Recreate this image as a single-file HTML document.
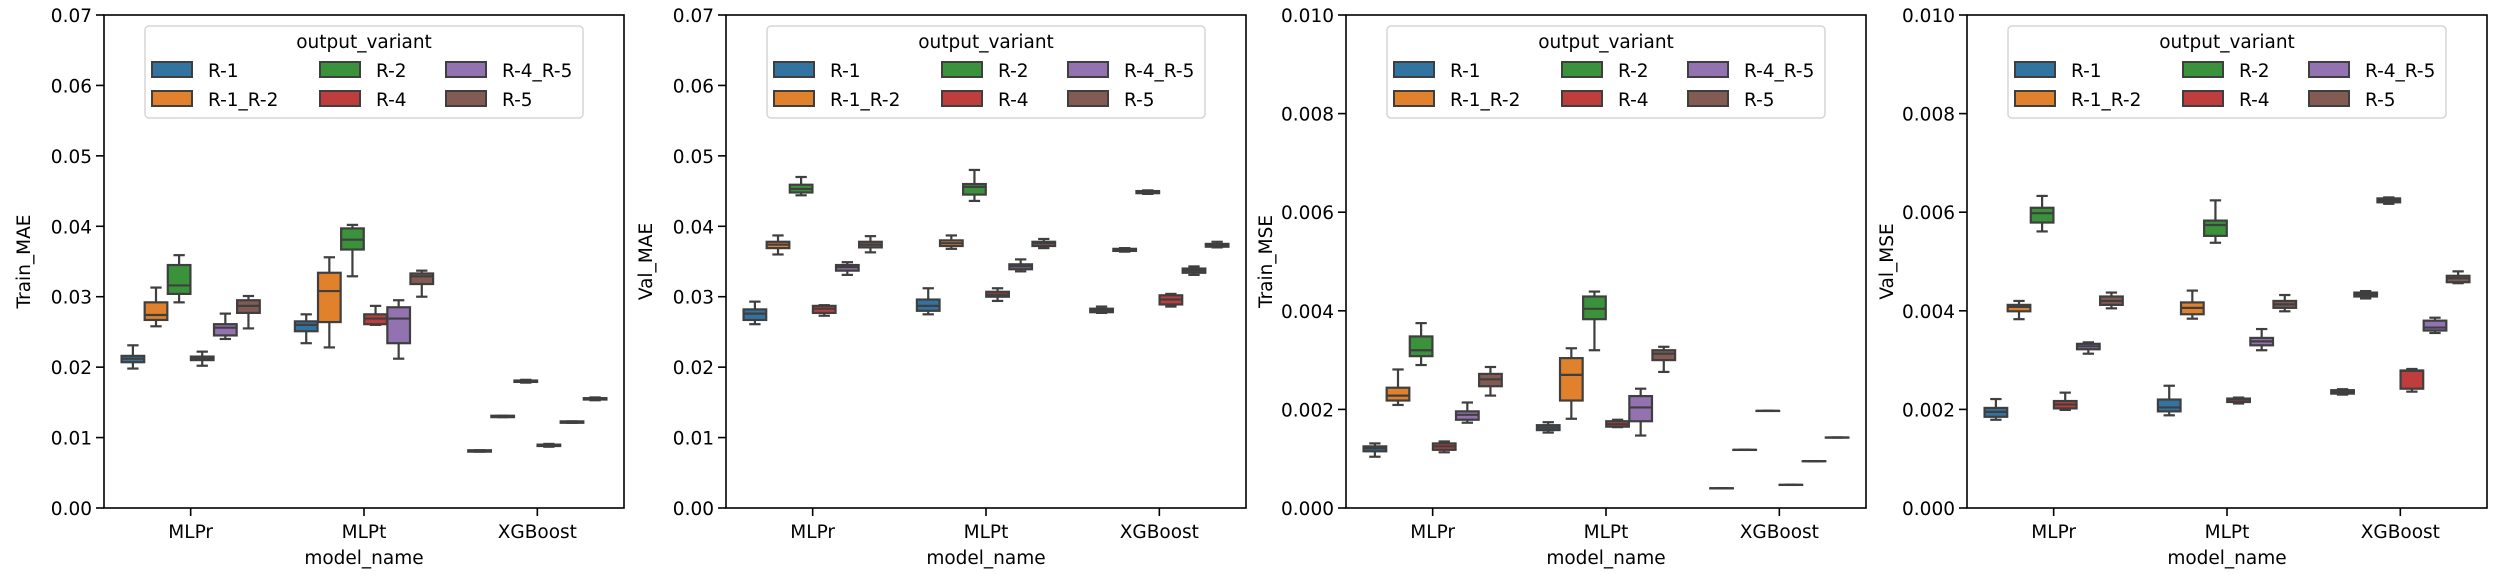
<!DOCTYPE html>
<html><head><meta charset="utf-8"><style>
html,body{margin:0;padding:0;background:#fff;}
svg{display:block;font-family:"DejaVu Sans","Liberation Sans",sans-serif;}
</style></head><body>
<svg id="fig" width="2518" height="575" viewBox="0 0 2518 575" xmlns="http://www.w3.org/2000/svg"></svg>
<script>
const categories = ["MLPr","MLPt","XGBoost"];
const variants = ["R-1","R-1_R-2","R-2","R-4","R-4_R-5","R-5"];
const colors = ["#3274a1","#e1812c","#3a923a","#c03d3e","#9372b2","#845b53"];

// each: [whisker low, q1, median, q3, whisker high] per variant
const trainMaeMLPr = [[0.0198,0.0207,0.0212,0.0216,0.0231],[0.0258,0.0267,0.0274,0.0292,0.0313],[0.0292,0.0304,0.0316,0.0345,0.0359],[0.0202,0.0210,0.0213,0.0215,0.0222],[0.0240,0.0245,0.0256,0.0261,0.0276],[0.0255,0.0277,0.0287,0.0295,0.0301]];
const trainMaeMLPt = [[0.0234,0.0251,0.0260,0.0265,0.0275],[0.0228,0.0264,0.0308,0.0334,0.0356],[0.0329,0.0367,0.0381,0.0397,0.0402],[0.0260,0.0261,0.0269,0.0275,0.0287],[0.0212,0.0234,0.0269,0.0285,0.0295],[0.0300,0.0318,0.0329,0.0333,0.0337]];
const trainMaeXGB = [[0.0080,0.0080,0.0081,0.0082,0.0082],[0.0129,0.0129,0.0130,0.0131,0.0131],[0.0178,0.0179,0.0180,0.0181,0.0182],[0.0087,0.0088,0.0089,0.0090,0.0091],[0.0121,0.0121,0.0122,0.0123,0.0123],[0.0153,0.0154,0.0155,0.0156,0.0157]];

const valMaeMLPr = [[0.0261,0.0267,0.0276,0.0282,0.0293],[0.0360,0.0369,0.0374,0.0378,0.0387],[0.0444,0.0448,0.0453,0.0459,0.0470],[0.0273,0.0277,0.0283,0.0287,0.0288],[0.0331,0.0337,0.0342,0.0345,0.0349],[0.0363,0.0370,0.0374,0.0378,0.0386]];
const valMaeMLPt = [[0.0275,0.0280,0.0287,0.0296,0.0312],[0.0368,0.0372,0.0376,0.0380,0.0387],[0.0436,0.0445,0.0456,0.0460,0.0480],[0.0294,0.0300,0.0303,0.0307,0.0312],[0.0336,0.0339,0.0343,0.0346,0.0353],[0.0369,0.0372,0.0376,0.0378,0.0382]];
const valMaeXGB = [[0.0277,0.0278,0.0281,0.0283,0.0286],[0.0364,0.0365,0.0366,0.0368,0.0369],[0.0446,0.0447,0.0448,0.0450,0.0451],[0.0286,0.0289,0.0296,0.0302,0.0304],[0.0331,0.0334,0.0337,0.0340,0.0343],[0.0370,0.0371,0.0373,0.0375,0.0378]];

const trainMseMLPr = [[0.00104,0.00115,0.00121,0.00125,0.00131],[0.00209,0.00218,0.00228,0.00244,0.00281],[0.00290,0.00308,0.00320,0.00348,0.00375],[0.00113,0.00118,0.00125,0.00131,0.00135],[0.00173,0.00179,0.00189,0.00196,0.00214],[0.00228,0.00247,0.00261,0.00272,0.00286]];
const trainMseMLPt = [[0.00153,0.00158,0.00163,0.00168,0.00174],[0.00181,0.00218,0.00270,0.00304,0.00324],[0.00320,0.00383,0.00404,0.00429,0.00439],[0.00164,0.00165,0.00170,0.00176,0.00179],[0.00147,0.00176,0.00204,0.00227,0.00242],[0.00276,0.00300,0.00313,0.00320,0.00327]];
const trainMseXGB = [[0.00040,0.00040,0.00040,0.00040,0.00040],[0.00118,0.00118,0.00118,0.00118,0.00118],[0.00197,0.00197,0.00197,0.00197,0.00197],[0.00047,0.00047,0.00047,0.00047,0.00047],[0.00095,0.00095,0.00095,0.00095,0.00095],[0.00143,0.00143,0.00143,0.00143,0.00143]];

const valMseMLPr = [[0.00179,0.00185,0.00195,0.00203,0.00221],[0.00383,0.00399,0.00408,0.00412,0.00420],[0.00561,0.00579,0.00598,0.00609,0.00633],[0.00199,0.00202,0.00210,0.00217,0.00234],[0.00313,0.00322,0.00328,0.00333,0.00336],[0.00405,0.00412,0.00420,0.00429,0.00437]];
const valMseMLPt = [[0.00188,0.00196,0.00204,0.00220,0.00248],[0.00384,0.00393,0.00406,0.00417,0.00441],[0.00538,0.00552,0.00574,0.00583,0.00624],[0.00212,0.00215,0.00220,0.00222,0.00224],[0.00320,0.00330,0.00338,0.00345,0.00363],[0.00399,0.00406,0.00413,0.00420,0.00432]];
const valMseXGB = [[0.00230,0.00232,0.00236,0.00239,0.00241],[0.00425,0.00429,0.00433,0.00437,0.00440],[0.00617,0.00620,0.00624,0.00628,0.00630],[0.00236,0.00242,0.00278,0.00279,0.00282],[0.00355,0.00360,0.00366,0.00380,0.00386],[0.00456,0.00458,0.00466,0.00471,0.00480]];

const maeTicks = ["0.00","0.01","0.02","0.03","0.04","0.05","0.06","0.07"];
const mseTicks = ["0.000","0.002","0.004","0.006","0.008","0.010"];

const panels = [
  {name:"train-mae", label:"Train_MAE", left:104, ymax:0.07, ticks:maeTicks, data:[trainMaeMLPr,trainMaeMLPt,trainMaeXGB]},
  {name:"val-mae", label:"Val_MAE", left:726, ymax:0.07, ticks:maeTicks, data:[valMaeMLPr,valMaeMLPt,valMaeXGB]},
  {name:"train-mse", label:"Train_MSE", left:1346, ymax:0.010, ticks:mseTicks, data:[trainMseMLPr,trainMseMLPt,trainMseXGB]},
  {name:"val-mse", label:"Val_MSE", left:1967, ymax:0.010, ticks:mseTicks, data:[valMseMLPr,valMseMLPt,valMseXGB]}
];

const NS = "http://www.w3.org/2000/svg";
const svg = document.getElementById("fig");
function mk(tag, attrs, parent, text){
  const e = document.createElementNS(NS, tag);
  for (const k in attrs) e.setAttribute(k, attrs[k]);
  if (text !== undefined) e.textContent = text;
  parent.appendChild(e);
  return e;
}
const W = 520, TOP = 15, BOT = 508, LC = "#3f3f3f", FS = 18.5;

panels.forEach(p => {
  const g = mk("g", {}, svg);
  
  
  const L = p.left;
  const xs = v => L + (v + 0.5) / 3 * W;
  const ys = v => BOT - v / p.ymax * (BOT - TOP);

  p.ticks.forEach(t => {
    const y = ys(parseFloat(t));
    const ln = mk("line", {x1:L-8, x2:L, y1:y, y2:y, stroke:"#000", "stroke-width":1.6}, g);
    
    
    const tx = mk("text", {x:L-12, y:y+7, "text-anchor":"end", "font-size":FS, fill:"#000"}, g, t);
    
    
  });
  categories.forEach((c, i) => {
    const x = xs(i);
    const ln = mk("line", {x1:x, x2:x, y1:BOT, y2:BOT+8, stroke:"#000", "stroke-width":1.6}, g);
    
    
    const tx = mk("text", {x:x, y:538, "text-anchor":"middle", "font-size":FS, fill:"#000"}, g, c);
    
    
  });
  const xl = mk("text", {x:L+W/2, y:564, "text-anchor":"middle", "font-size":FS, fill:"#000"}, g, "model_name");
  
  
  const yl = mk("text", {x:0, y:0, "text-anchor":"middle", "font-size":FS, fill:"#000", transform:`translate(${L-74},${(TOP+BOT)/2}) rotate(-90)`}, g, p.label);
  
  

  const slot = 0.8 / 6;
  p.data.forEach((arr, ci) => {
    arr.forEach((d, vi) => {
      const cx = xs(ci - 0.4 + slot * (vi + 0.5));
      const bw = slot / 3 * W * 0.98;
      const bg = mk("g", {}, g);
      
      
      const [lo, q1, md, q3, hi] = d.map(ys);
      mk("line", {x1:cx, x2:cx, y1:q1, y2:lo, stroke:LC, "stroke-width":2.2}, bg);
      mk("line", {x1:cx, x2:cx, y1:q3, y2:hi, stroke:LC, "stroke-width":2.2}, bg);
      mk("line", {x1:cx-bw/4, x2:cx+bw/4, y1:lo, y2:lo, stroke:LC, "stroke-width":2.2}, bg);
      mk("line", {x1:cx-bw/4, x2:cx+bw/4, y1:hi, y2:hi, stroke:LC, "stroke-width":2.2}, bg);
      mk("rect", {x:cx-bw/2, y:q3, width:bw, height:Math.max(q1-q3,0.1), fill:colors[vi], stroke:LC, "stroke-width":2.2}, bg);
      mk("line", {x1:cx-bw/2, x2:cx+bw/2, y1:md, y2:md, stroke:LC, "stroke-width":2.2}, bg);
    });
  });

  const fr = mk("rect", {x:L, y:TOP, width:W, height:BOT-TOP, fill:"none", stroke:"#000", "stroke-width":1.6}, g);
  
  

  const lg = mk("g", {}, g);
  
  
  mk("rect", {x:L+41, y:26, width:438, height:92, rx:4, fill:"#fff", "fill-opacity":0.8, stroke:"#d6d6d6", "stroke-width":1.5}, lg);
  mk("text", {x:L+41+219, y:48, "text-anchor":"middle", "font-size":FS, fill:"#000"}, lg, "output_variant");
  const colP = [48, 216, 342], colT = [104, 272, 398], rowY = [70, 99];
  variants.forEach((v, i) => {
    const c = Math.floor(i / 2), r = i % 2;
    const le = mk("g", {}, lg);
    
    
    mk("rect", {x:L+colP[c], y:rowY[r]-8, width:40, height:15, fill:colors[i], stroke:LC, "stroke-width":2}, le);
    mk("text", {x:L+colT[c], y:rowY[r]+7, "font-size":FS, fill:"#000"}, le, v);
  });
});
</script>
</body></html>
